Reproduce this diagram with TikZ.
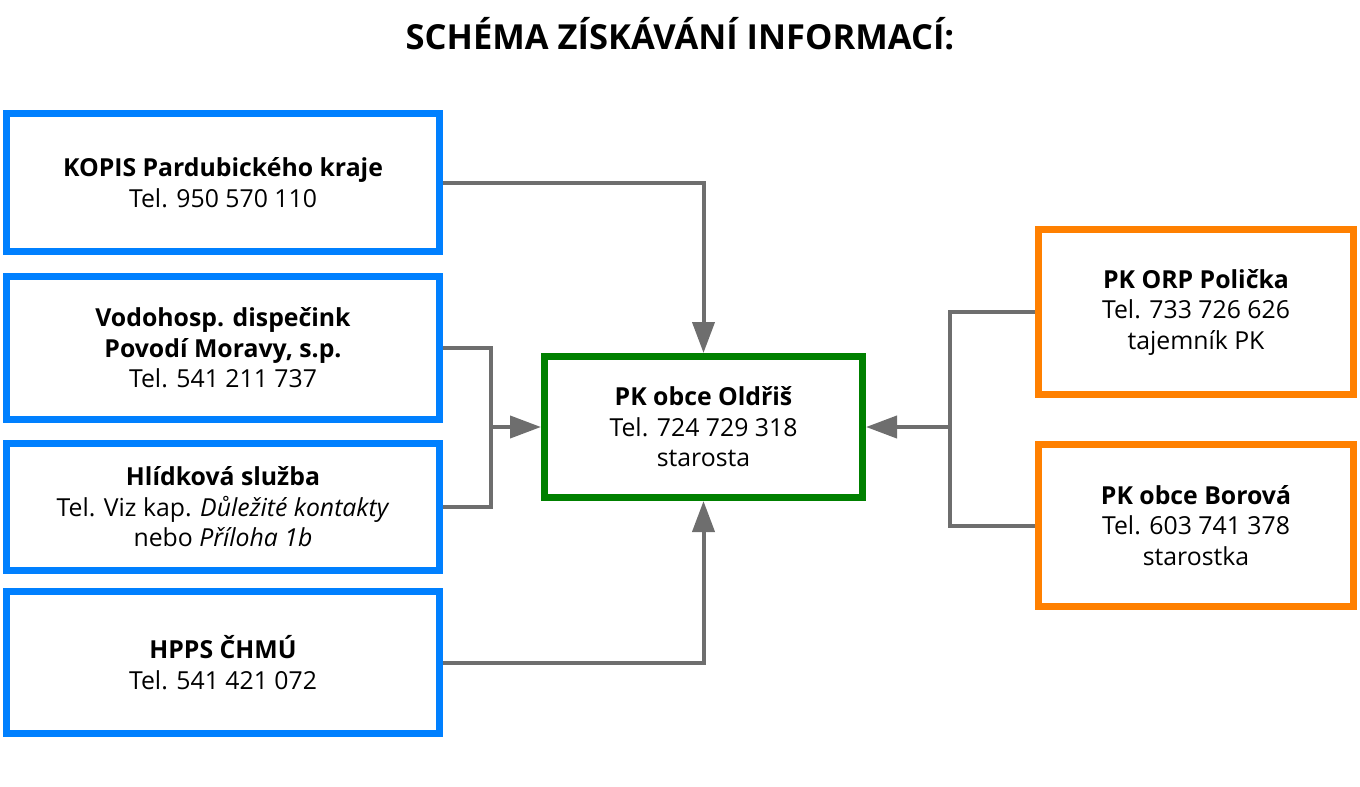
\documentclass[tikz,border=0pt]{standalone}
\usepackage{fontspec}
\setmainfont{Open Sans}
\usetikzlibrary{arrows.meta}
\definecolor{boxblue}{HTML}{0080FF}
\definecolor{boxgreen}{HTML}{008000}
\definecolor{boxorange}{HTML}{FF8000}
\definecolor{linegray}{HTML}{6E6E6E}
\begin{document}
\begin{tikzpicture}[x=1pt,y=-1pt,
    box/.style={draw,line width=7pt,rectangle,align=center,inner sep=0pt,
        font=\fontsize{24.8}{30.5}\selectfont},
    bluebox/.style={box,draw=boxblue,minimum width=433pt},
    orangebox/.style={box,draw=boxorange,minimum width=315pt},
    link/.style={draw=linegray,line width=4pt},
    arr/.style={link,-{Triangle[length=31pt,width=22pt]}}]
    \useasboundingbox (0,0) rectangle (1360,787);
    \node (title) at (680,34) {\fontsize{34.5}{40}\selectfont\bfseries SCHÉMA ZÍSKÁVÁNÍ INFORMACÍ:};
    \node[bluebox,minimum height=138pt] (kopis) at (223,182.5) {\textbf{KOPIS Pardubického kraje}\\Tel. 950 570 110};
    \node[bluebox,minimum height=143pt] (vodo) at (223,348) {\textbf{Vodohosp. dispečink}\\\textbf{Povodí Moravy, s.p.}\\Tel. 541 211 737};
    \node[bluebox,minimum height=127pt] (hlid) at (223,507) {\textbf{Hlídková služba}\\Tel. Viz kap. \textit{Důležité kontakty}\\nebo \textit{Příloha 1b}};
    \node[bluebox,minimum height=142pt] (hpps) at (223,662.5) {\textbf{HPPS ČHMÚ}\\Tel. 541 421 072};
    \node[box,draw=boxgreen,minimum width=318pt,minimum height=141pt] (oldris) at (703.5,427) {\textbf{PK obce Oldřiš}\\Tel. 724 729 318\\starosta};
    \node[orangebox,minimum height=165pt] (policka) at (1196,312) {\textbf{PK ORP Polička}\\Tel. 733 726 626\\tajemník PK};
    \node[orangebox,minimum height=162pt] (borova) at (1196,525.5) {\textbf{PK obce Borová}\\Tel. 603 741 378\\starostka};
    \coordinate (lj) at (491,427);
    \coordinate (rj) at (950,427);
    \draw[arr] (kopis.east) -| (oldris.north);
    \draw[arr] (hpps.east) -| (oldris.south);
    \draw[link] (vodo.east) -| (lj) |- (hlid.east);
    \draw[arr] (lj) -- (oldris.west);
    \draw[link] (policka.west) -| (rj) |- (borova.west);
    \draw[arr] (rj) -- (oldris.east);
\end{tikzpicture}
\end{document}
